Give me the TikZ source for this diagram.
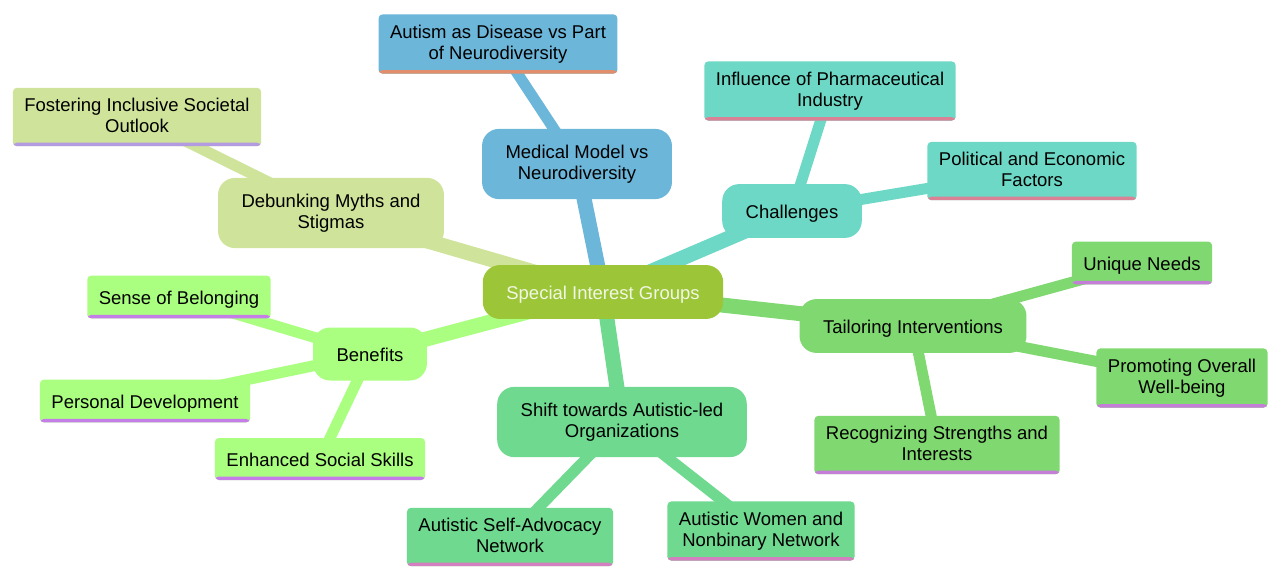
\documentclass[tikz,border=0pt]{standalone}
\usepackage{fontspec}
\setmainfont{Liberation Sans}
\usetikzlibrary{backgrounds}

\definecolor{rootgreen}{HTML}{9CC537}
\definecolor{roottext}{HTML}{F2F7E4}
\definecolor{medblue}{HTML}{6CB6D9}
\definecolor{medline}{HTML}{E08E6C}
\definecolor{chteal}{HTML}{6DD8C5}
\definecolor{chline}{HTML}{D98296}
\definecolor{tailgreen}{HTML}{80D870}
\definecolor{tailline}{HTML}{C47ED8}
\definecolor{shiftgreen}{HTML}{6FD98F}
\definecolor{shiftline}{HTML}{D37FC0}
\definecolor{benlime}{HTML}{AAFF80}
\definecolor{benline}{HTML}{C57DE8}
\definecolor{mythsage}{HTML}{CFE49A}
\definecolor{mythline}{HTML}{B49AE0}

\newcommand{\mapstrut}{\rule[-3pt]{0pt}{21pt}}

\begin{document}
\begin{tikzpicture}[x=1pt, y=-1pt, font=\fontsize{18.5}{21}\selectfont]
    \tikzstyle{hub}=[rounded corners=17pt, align=center, inner xsep=23.5pt, inner ysep=16pt,
        execute at begin node=\mapstrut, execute at end node=\mapstrut]
    \tikzstyle{link}=[line width=15pt]
    \tikzstyle{twig}=[line width=11pt]
    \tikzset{leaf/.style 2 args={fill=#1, rounded corners=4pt, align=center, inner xsep=11.5pt, inner ysep=10.5pt,
        execute at begin node=\mapstrut, execute at end node=\mapstrut,
        path picture={\fill[#2] ([yshift=3.5pt]path picture bounding box.south west) rectangle (path picture bounding box.south east);}}}

    \useasboundingbox (0,0) rectangle (1280,580);

    % centre
    \node[hub, fill=rootgreen, text=roottext] (root) at (603,292) {Special Interest Groups};

    % first ring
    \node[hub, fill=medblue] (medical) at (577,164) {Medical Model vs\\Neurodiversity};
    \node[hub, fill=chteal] (challenges) at (792,211) {Challenges};
    \node[hub, fill=tailgreen] (tailoring) at (913,326) {Tailoring Interventions};
    \node[hub, fill=shiftgreen] (shift) at (622,422) {Shift towards Autistic-led\\Organizations};
    \node[hub, fill=benlime] (benefits) at (370,354) {Benefits};
    \node[hub, fill=mythsage] (myths) at (331,213) {Debunking Myths and\\Stigmas};

    % leaves
    \node[leaf={medblue}{medline}] (disease) at (498,44) {Autism as Disease vs Part\\of Neurodiversity};
    \node[leaf={chteal}{chline}] (pharma) at (830,91) {Influence of Pharmaceutical\\Industry};
    \node[leaf={chteal}{chline}] (political) at (1032,171) {Political and Economic\\Factors};
    \node[leaf={tailgreen}{tailline}] (needs) at (1142,263) {Unique Needs};
    \node[leaf={tailgreen}{tailline}] (wellbeing) at (1182,378) {Promoting Overall\\Well-being};
    \node[leaf={tailgreen}{tailline}] (strengths) at (937,445) {Recognizing Strengths and\\Interests};
    \node[leaf={shiftgreen}{shiftline}] (asan) at (510,537) {Autistic Self-Advocacy\\Network};
    \node[leaf={shiftgreen}{shiftline}] (awn) at (761,531) {Autistic Women and\\Nonbinary Network};
    \node[leaf={benlime}{benline}] (belonging) at (179,297) {Sense of Belonging};
    \node[leaf={benlime}{benline}] (personal) at (145,401) {Personal Development};
    \node[leaf={benlime}{benline}] (social) at (320,459) {Enhanced Social Skills};
    \node[leaf={mythsage}{mythline}] (outlook) at (137,117) {Fostering Inclusive Societal\\Outlook};

    \begin{scope}[on background layer]
        \draw[link, medblue] (root.center) -- (medical.center);
        \draw[link, chteal] (root.center) -- (challenges.center);
        \draw[link, tailgreen] (root.center) -- (tailoring.center);
        \draw[link, shiftgreen] (root.center) -- (shift.center);
        \draw[link, benlime] (root.center) -- (benefits.center);
        \draw[link, mythsage] (root.center) -- (myths.center);

        \draw[twig, medblue] (medical.center) -- (disease.center);
        \draw[twig, chteal] (challenges.center) -- (pharma.center);
        \draw[twig, chteal] (challenges.center) -- (political.center);
        \draw[twig, tailgreen] (tailoring.center) -- (needs.center);
        \draw[twig, tailgreen] (tailoring.center) -- (wellbeing.center);
        \draw[twig, tailgreen] (tailoring.center) -- (strengths.center);
        \draw[twig, shiftgreen] (shift.center) -- (asan.center);
        \draw[twig, shiftgreen] (shift.center) -- (awn.center);
        \draw[twig, benlime] (benefits.center) -- (belonging.center);
        \draw[twig, benlime] (benefits.center) -- (personal.center);
        \draw[twig, benlime] (benefits.center) -- (social.center);
        \draw[twig, mythsage] (myths.center) -- (outlook.center);
    \end{scope}
\end{tikzpicture}
\end{document}
